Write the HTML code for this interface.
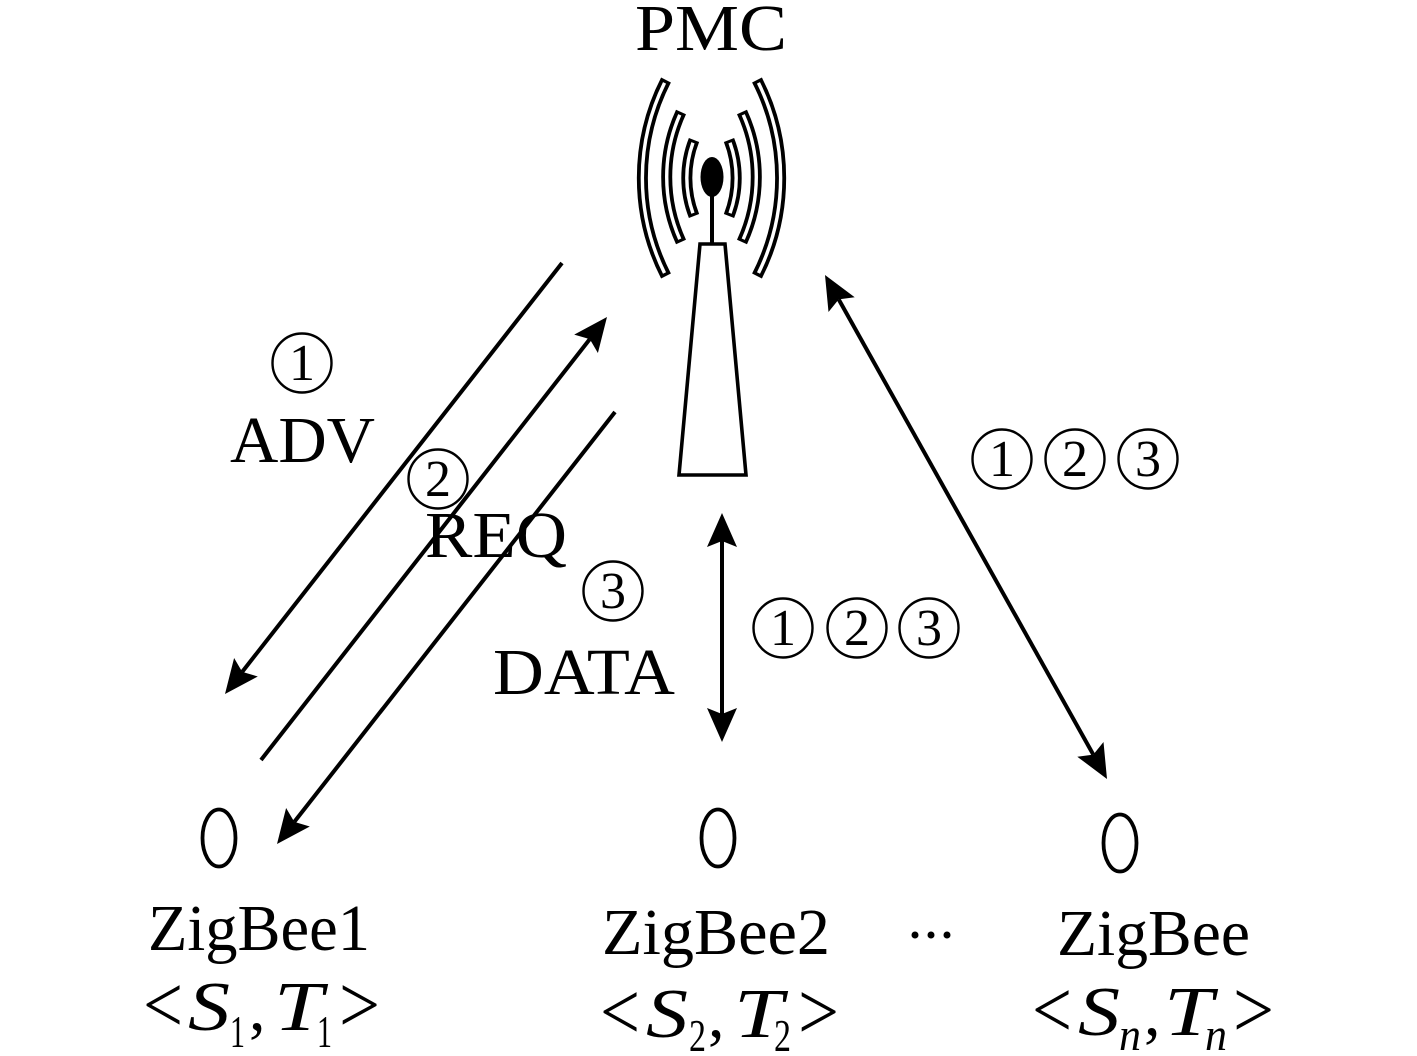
<!DOCTYPE html>
<html>
<head>
<meta charset="utf-8">
<style>
  html,body{margin:0;padding:0;background:#fff;}
  svg{display:block;}
  text{font-family:"Liberation Serif", serif; fill:#000;}
  .it{font-style:italic;}
</style>
</head>
<body>
<svg width="1417" height="1056" viewBox="0 0 1417 1056" xmlns="http://www.w3.org/2000/svg">
  <rect width="1417" height="1056" fill="#fff"/>

  <!-- PMC -->
  <text x="635" y="50" font-size="66" textLength="152" lengthAdjust="spacingAndGlyphs">PMC</text>

  <!-- Radio waves (double-line strips) -->
  <g fill="none" stroke-linecap="butt">
    <g stroke="#000" stroke-width="11">
      <path d="M666,80 A215,215 0 0 0 666,276"/>
      <path d="M681,112 A155,155 0 0 0 681,242"/>
      <path d="M694,140 A104,104 0 0 0 694,216"/>
      <path d="M757,80 A215,215 0 0 1 757,276"/>
      <path d="M742,112 A155,155 0 0 1 742,242"/>
      <path d="M729,140 A104,104 0 0 1 729,216"/>
    </g>
    <g stroke="#fff" stroke-width="3.4">
      <path d="M666,80 A215,215 0 0 0 666,276" pathLength="100" stroke-dasharray="0 1.6 96.8 1.6"/>
      <path d="M681,112 A155,155 0 0 0 681,242" pathLength="100" stroke-dasharray="0 2.3 95.4 2.3"/>
      <path d="M694,140 A104,104 0 0 0 694,216" pathLength="100" stroke-dasharray="0 3.8 92.4 3.8"/>
      <path d="M757,80 A215,215 0 0 1 757,276" pathLength="100" stroke-dasharray="0 1.6 96.8 1.6"/>
      <path d="M742,112 A155,155 0 0 1 742,242" pathLength="100" stroke-dasharray="0 2.3 95.4 2.3"/>
      <path d="M729,140 A104,104 0 0 1 729,216" pathLength="100" stroke-dasharray="0 3.8 92.4 3.8"/>
    </g>
  </g>

  <!-- Antenna -->
  <ellipse cx="712" cy="177" rx="11.5" ry="20" fill="#000"/>
  <line x1="712" y1="190" x2="712" y2="245" stroke="#000" stroke-width="4"/>
  <polygon points="700,244 725,244 746,475 679,475" fill="#fff" stroke="#000" stroke-width="3.6" stroke-linejoin="miter"/>

  <!-- Arrow lines -->
  <g stroke="#000" stroke-width="4" fill="none" stroke-linecap="butt">
    <line x1="562" y1="263" x2="242.2" y2="671.9"/>
    <line x1="261" y1="760" x2="589.8" y2="339.1"/>
    <line x1="615" y1="412" x2="294.3" y2="821.9"/>
    <line x1="722" y1="541" x2="722" y2="714"/>
    <line x1="838.7" y1="299.4" x2="1093.3" y2="754.6"/>
  </g>
  <!-- Arrowheads -->
  <g fill="#000" stroke="none">
    <polygon points="225,694 257.8,676.5 242.2,671.9 234.1,658.0"/>
    <polygon points="607,317 597.9,353.0 589.8,339.1 574.2,334.6"/>
    <polygon points="277,844 309.8,826.5 294.3,821.9 286.1,808.0"/>
    <polygon points="722,513 737,547 722,541 707,547"/>
    <polygon points="722,742 737,708 722,714 707,708"/>
    <polygon points="825,275 854.7,297.3 838.7,299.4 828.5,312.0"/>
    <polygon points="1107,779 1103.5,742.0 1093.3,754.6 1077.3,756.7"/>
  </g>

  <!-- Circled numbers -->
  <g fill="none" stroke="#000" stroke-width="2.4">
    <circle cx="302" cy="363" r="29.5"/>
    <circle cx="438" cy="479" r="29.5"/>
    <circle cx="613" cy="591" r="29.5"/>
    <circle cx="783" cy="628" r="29.5"/>
    <circle cx="857" cy="628" r="29.5"/>
    <circle cx="929" cy="628" r="29.5"/>
    <circle cx="1002" cy="459" r="29.5"/>
    <circle cx="1075" cy="459" r="29.5"/>
    <circle cx="1148" cy="459" r="29.5"/>
  </g>
  <g font-size="52" text-anchor="middle">
    <text x="302" y="380">1</text>
    <text x="438" y="496">2</text>
    <text x="613" y="608">3</text>
    <text x="783" y="645">1</text>
    <text x="857" y="645">2</text>
    <text x="929" y="645">3</text>
    <text x="1002" y="476">1</text>
    <text x="1075" y="476">2</text>
    <text x="1148" y="476">3</text>
  </g>

  <!-- Message labels -->
  <text x="230" y="462" font-size="66" textLength="145" lengthAdjust="spacingAndGlyphs">ADV</text>
  <text x="425" y="557" font-size="66" textLength="142" lengthAdjust="spacingAndGlyphs">REQ</text>
  <text x="493" y="694" font-size="66" textLength="182" lengthAdjust="spacingAndGlyphs">DATA</text>

  <!-- ZigBee nodes -->
  <g fill="none" stroke="#000" stroke-width="3.8">
    <ellipse cx="219" cy="838" rx="16.5" ry="28.5"/>
    <ellipse cx="718" cy="838" rx="16.5" ry="28.5"/>
    <ellipse cx="1120" cy="843" rx="16.5" ry="28.5"/>
  </g>

  <text x="148" y="950" font-size="66" textLength="222" lengthAdjust="spacingAndGlyphs">ZigBee1</text>
  <text x="602" y="954" font-size="66" textLength="228" lengthAdjust="spacingAndGlyphs">ZigBee2</text>
  <text x="1057" y="955" font-size="66" textLength="193" lengthAdjust="spacingAndGlyphs">ZigBee</text>

  <!-- ellipsis dots -->
  <g fill="#000">
    <circle cx="915" cy="935" r="3.5"/>
    <circle cx="931" cy="935" r="3.5"/>
    <circle cx="947" cy="935" r="3.5"/>
  </g>

  <!-- <S1,T1> -->
  <g font-size="66">
    <text x="143" y="1032" font-size="82" textLength="40" lengthAdjust="spacingAndGlyphs">&lt;</text>
    <text x="188" y="1030" class="it" font-size="70" textLength="42" lengthAdjust="spacingAndGlyphs">S</text>
    <text x="230" y="1047" font-size="46" textLength="15" lengthAdjust="spacingAndGlyphs">1</text>
    <text x="249" y="1030">,</text>
    <text x="274" y="1030" class="it" font-size="70" textLength="49" lengthAdjust="spacingAndGlyphs">T</text>
    <text x="317" y="1047" font-size="46" textLength="15" lengthAdjust="spacingAndGlyphs">1</text>
    <text x="339" y="1032" font-size="82" textLength="41" lengthAdjust="spacingAndGlyphs">&gt;</text>
  </g>

  <!-- <S2,T2> -->
  <g font-size="66">
    <text x="600" y="1039" font-size="82" textLength="40" lengthAdjust="spacingAndGlyphs">&lt;</text>
    <text x="646" y="1037" class="it" font-size="70" textLength="42" lengthAdjust="spacingAndGlyphs">S</text>
    <text x="689" y="1051" font-size="46" textLength="17" lengthAdjust="spacingAndGlyphs">2</text>
    <text x="708" y="1037">,</text>
    <text x="734" y="1037" class="it" font-size="70" textLength="49" lengthAdjust="spacingAndGlyphs">T</text>
    <text x="774" y="1051" font-size="46" textLength="17" lengthAdjust="spacingAndGlyphs">2</text>
    <text x="798" y="1039" font-size="82" textLength="41" lengthAdjust="spacingAndGlyphs">&gt;</text>
  </g>

  <!-- <Sn,Tn> -->
  <g font-size="66">
    <text x="1032" y="1037" font-size="82" textLength="40" lengthAdjust="spacingAndGlyphs">&lt;</text>
    <text x="1078" y="1035" class="it" font-size="70" textLength="42" lengthAdjust="spacingAndGlyphs">S</text>
    <text x="1119" y="1050" font-size="46" class="it" textLength="22" lengthAdjust="spacingAndGlyphs">n</text>
    <text x="1144" y="1035">,</text>
    <text x="1164" y="1035" class="it" font-size="70" textLength="49" lengthAdjust="spacingAndGlyphs">T</text>
    <text x="1205" y="1050" font-size="46" class="it" textLength="22" lengthAdjust="spacingAndGlyphs">n</text>
    <text x="1233" y="1037" font-size="82" textLength="41" lengthAdjust="spacingAndGlyphs">&gt;</text>
  </g>
</svg>
</body>
</html>
